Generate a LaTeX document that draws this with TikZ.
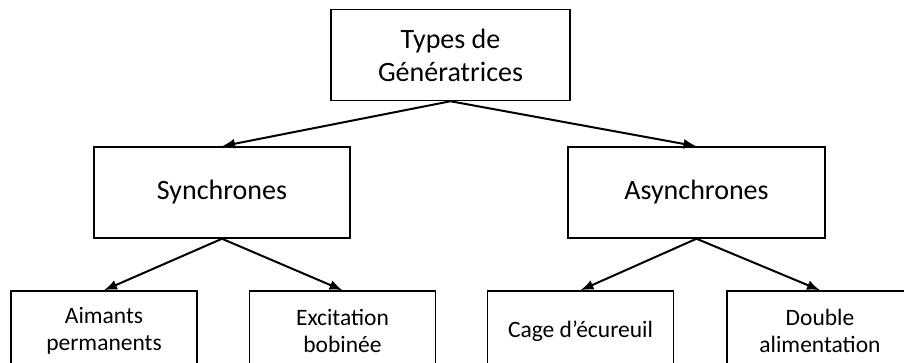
\documentclass[tikz,border=0pt]{standalone}
\usepackage{fontspec}
\setmainfont{Carlito}
\usetikzlibrary{arrows.meta,positioning}

\tikzset{
  bigbox/.style={draw, line width=1.5pt, align=center, minimum height=91pt,
    font=\fontsize{28}{33}\selectfont},
  smallbox/.style={draw, line width=1.5pt, align=center, minimum width=186pt,
    minimum height=80pt, font=\fontsize{23.5}{27.5}\selectfont},
  fleche/.style={-{Latex[length=13pt,width=10pt]}, line width=2pt}
}

\begin{document}
\begin{tikzpicture}[x=1pt,y=-1pt]
        \clip (0,0) rectangle (904,363);
        % boites
        \node[bigbox, minimum width=239pt] (types) at (450.5,55) {Types de\\Génératrices};
        \node[bigbox, minimum width=256pt] (sync) at (222,192.5) {Synchrones};
        \node[bigbox, minimum width=257pt] (async) at (696.5,192.5) {Asynchrones};
        \node[smallbox] (aimants) at (104,331) {Aimants\\permanents};
        \node[smallbox] (excit) at (342.5,331) {Excitation\\bobinée};
        \node[smallbox] (cage) at (580.5,331) {Cage d’écureuil};
        \node[smallbox] (double) at (820,331) {Double\\alimentation};
        % fleches
        \draw[fleche] (types.south) -- (sync.north);
        \draw[fleche] (types.south) -- (async.north);
        \draw[fleche] (sync.south) -- (aimants.north);
        \draw[fleche] (sync.south) -- (excit.north);
        \draw[fleche] (async.south) -- (cage.north);
        \draw[fleche] (async.south) -- (double.north);
\end{tikzpicture}
\end{document}
